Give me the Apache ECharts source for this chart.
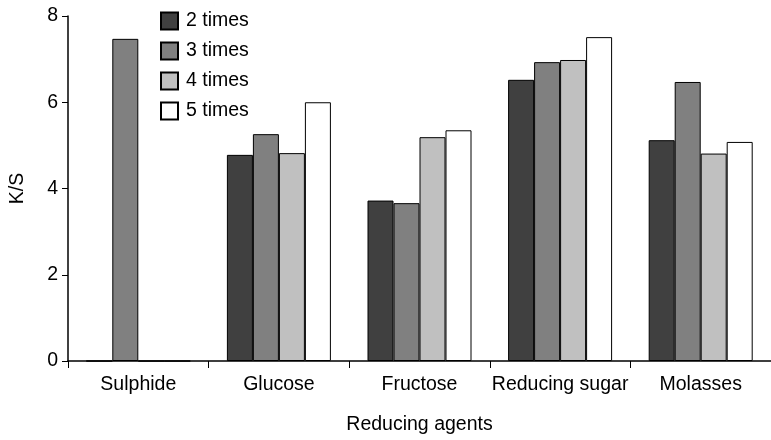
<!DOCTYPE html>
<html lang="en" style="height: 100%">
<head>
  <meta charset="utf-8">
</head>
<body style="height: 100%; margin: 0">
  <div id="container" style="width: 771px; height: 440px"></div>
  <script src="https://fastly.jsdelivr.net/npm/echarts@6/dist/echarts.min.js"></script>
  <script>
    // data
    const categories = ['Sulphide', 'Glucose', 'Fructose', 'Reducing sugar', 'Molasses'];
    const seriesNames = ['2 times', '3 times', '4 times', '5 times'];
    const times2 = [0, 4.78, 3.72, 6.52, 5.12];
    const times3 = [7.47, 5.26, 3.66, 6.93, 6.47];
    const times4 = [0, 4.82, 5.19, 6.98, 4.81];
    const times5 = [0, 6.0, 5.35, 7.51, 5.08];
    const yTicks = [0, 2, 4, 6, 8];

    const values = [times2, times3, times4, times5];
    const colors = ['#404040', '#808080', '#c0c0c0', '#ffffff'];
    const font = 'Liberation Sans, Arial, sans-serif';
    const fs = 19.5;

    const chart = echarts.init(document.getElementById('container'), null, { renderer: 'canvas' });

    const option = {
      animation: false,
      textStyle: { fontFamily: font },
      grid: { left: 67, right: 0, top: 16, bottom: 79, containLabel: false },
      legend: {
        orient: 'vertical',
        left: 155,
        top: 6,
        itemWidth: 17,
        itemHeight: 17,
        itemGap: 10,
        icon: 'rect',
        textStyle: { fontSize: fs, color: '#000', fontFamily: font, padding: [0, 0, 0, 3] },
        data: seriesNames
      },
      xAxis: {
        type: 'category',
        data: categories,
        name: 'Reducing agents',
        nameLocation: 'middle',
        nameGap: 54,
        nameTextStyle: { fontSize: fs, color: '#000', fontFamily: font },
        axisLine: { lineStyle: { color: '#000', width: 1.5 } },
        axisTick: { show: true, length: 7, lineStyle: { color: '#000', width: 1 } },
        axisLabel: { interval: 0, fontSize: fs, color: '#000', margin: 14, fontFamily: font }
      },
      yAxis: {
        type: 'value',
        min: yTicks[0],
        max: yTicks[yTicks.length - 1],
        interval: 2,
        name: 'K/S',
        nameLocation: 'middle',
        nameRotate: 90,
        nameGap: 40,
        nameTextStyle: { fontSize: fs, color: '#000', fontFamily: font },
        splitLine: { show: false },
        axisLine: { show: true, lineStyle: { color: '#000', width: 1.5 } },
        axisTick: { show: true, length: 6, lineStyle: { color: '#000' } },
        axisLabel: { fontSize: fs, color: '#000', margin: 10, fontFamily: font }
      },
      series: seriesNames.map(function (name, i) {
        return {
          name: name,
          type: 'bar',
          data: values[i],
          barWidth: 26,
          barGap: '0%',
          itemStyle: { color: colors[i], borderColor: '#000', borderWidth: 1 }
        };
      })
    };

    chart.setOption(option);
    window.addEventListener('resize', chart.resize);
  </script>
</body>
</html>
